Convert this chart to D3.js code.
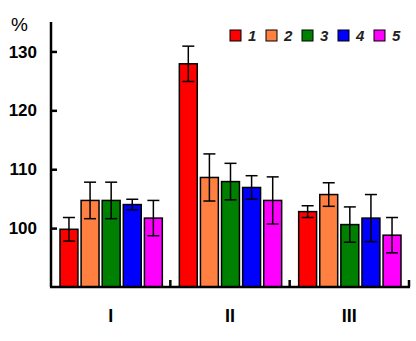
<!DOCTYPE html>
<html>
<head>
<meta charset="utf-8">
<script src="https://cdn.jsdelivr.net/npm/d3@7"></script>
<style>
  body { margin: 0; background: #fff; }
  svg { display: block; font-family: Arial, "Liberation Sans", sans-serif; }
</style>
</head>
<body>
<div id="chart"></div>
<script>
// Grouped bars with error bars, three groups I-III, five series

const groups = ["I", "II", "III"];
const seriesNames = ["1", "2", "3", "4", "5"];
const seriesColors = ["#ff0000", "#ff8040", "#008000", "#0000ff", "#ff00ff"];
const yTicks = [100, 110, 120, 130];

// values per series, one per group
const means = [
    [99.8, 127.9, 102.8],
    [104.7, 108.6, 105.7],
    [104.7, 107.9, 100.6],
    [104.0, 106.9, 101.7],
    [101.7, 104.7, 98.8]
];
const errors = [
    [2.0, 3.0, 1.0],
    [3.1, 4.0, 2.0],
    [3.1, 3.1, 3.0],
    [0.9, 2.0, 4.0],
    [3.0, 4.0, 3.0]
];

const width = 416;
const height = 341;

const svg = d3.select("#chart")
    .append("svg")
    .attr("width", width)
    .attr("height", height);

const x0 = d3.scaleBand()
    .domain(groups)
    .range([51, 409]);

const x1 = d3.scaleBand()
    .domain(seriesNames)
    .range([9, x0.bandwidth() - 8])
    .paddingInner(0.15);

const y = d3.scaleLinear()
    .domain([90, 135])
    .range([287, 22]);

const data = [];
groups.forEach((g, gi) => {
    seriesNames.forEach((s, si) => {
        data.push({group: g, series: s, color: seriesColors[si],
                   value: means[si][gi], err: errors[si][gi]});
    });
});

// bars
svg.append("g")
    .selectAll("rect")
    .data(data)
    .join("rect")
    .attr("x", d => x0(d.group) + x1(d.series))
    .attr("y", d => y(d.value))
    .attr("width", x1.bandwidth())
    .attr("height", d => y(90) - y(d.value))
    .attr("fill", d => d.color)
    .attr("stroke", "#000")
    .attr("stroke-width", 1.5);

// error bars
const capHalf = 6;
const eb = svg.append("g")
    .attr("stroke", "#000")
    .attr("stroke-width", 1.5)
    .selectAll("g")
    .data(data)
    .join("g")
    .attr("transform", d => `translate(${x0(d.group) + x1(d.series) + x1.bandwidth() / 2},0)`);

eb.append("line")
    .attr("y1", d => y(d.value + d.err))
    .attr("y2", d => y(d.value - d.err));
eb.append("line")
    .attr("x1", -capHalf).attr("x2", capHalf)
    .attr("y1", d => y(d.value + d.err))
    .attr("y2", d => y(d.value + d.err));
eb.append("line")
    .attr("x1", -capHalf).attr("x2", capHalf)
    .attr("y1", d => y(d.value - d.err))
    .attr("y2", d => y(d.value - d.err));

// y axis
const yAxis = svg.append("g")
    .attr("transform", "translate(51,0)")
    .call(d3.axisRight(y).tickValues(yTicks).tickSize(6).tickFormat(""));
yAxis.select(".domain").attr("d", `M0,${y(135)}V${y(90)}`)
    .attr("stroke-width", 2.5);
yAxis.selectAll(".tick line").attr("stroke-width", 2.5);

svg.append("g")
    .selectAll("text")
    .data(yTicks)
    .join("text")
    .attr("x", 37)
    .attr("y", d => y(d))
    .attr("dy", "0.36em")
    .attr("text-anchor", "end")
    .attr("font-size", 17)
    .attr("font-weight", "bold")
    .text(d => d);

svg.append("text")
    .attr("x", 11)
    .attr("y", 31)
    .attr("font-size", 19)
    .text("%");

// x axis
const xAxis = svg.append("g")
    .attr("transform", `translate(0,${y(90)})`);
xAxis.append("line")
    .attr("x1", 50).attr("x2", 410)
    .attr("stroke", "#000")
    .attr("stroke-width", 2.5);
xAxis.selectAll(".sep")
    .data(groups)
    .join("line")
    .attr("class", "sep")
    .attr("x1", d => x0(d) + x0.bandwidth())
    .attr("x2", d => x0(d) + x0.bandwidth())
    .attr("y1", 0).attr("y2", -7)
    .attr("stroke", "#000")
    .attr("stroke-width", 2.5);
xAxis.selectAll("text")
    .data(groups)
    .join("text")
    .attr("x", d => x0(d) + x0.bandwidth() / 2)
    .attr("y", 35)
    .attr("text-anchor", "middle")
    .attr("font-size", 18)
    .attr("font-weight", "bold")
    .text(d => d);

// legend
const legend = svg.append("g")
    .selectAll("g")
    .data(seriesNames)
    .join("g")
    .attr("transform", (d, i) => `translate(${230 + i * 36},30)`);
legend.append("rect")
    .attr("width", 11).attr("height", 11)
    .attr("fill", (d, i) => seriesColors[i])
    .attr("stroke", "#000")
    .attr("stroke-width", 1);
legend.append("text")
    .attr("x", 18)
    .attr("y", 11)
    .attr("font-size", 15)
    .attr("font-weight", "bold")
    .attr("font-style", "italic")
    .attr("fill", "#222")
    .text(d => d);
</script>
</body>
</html>
